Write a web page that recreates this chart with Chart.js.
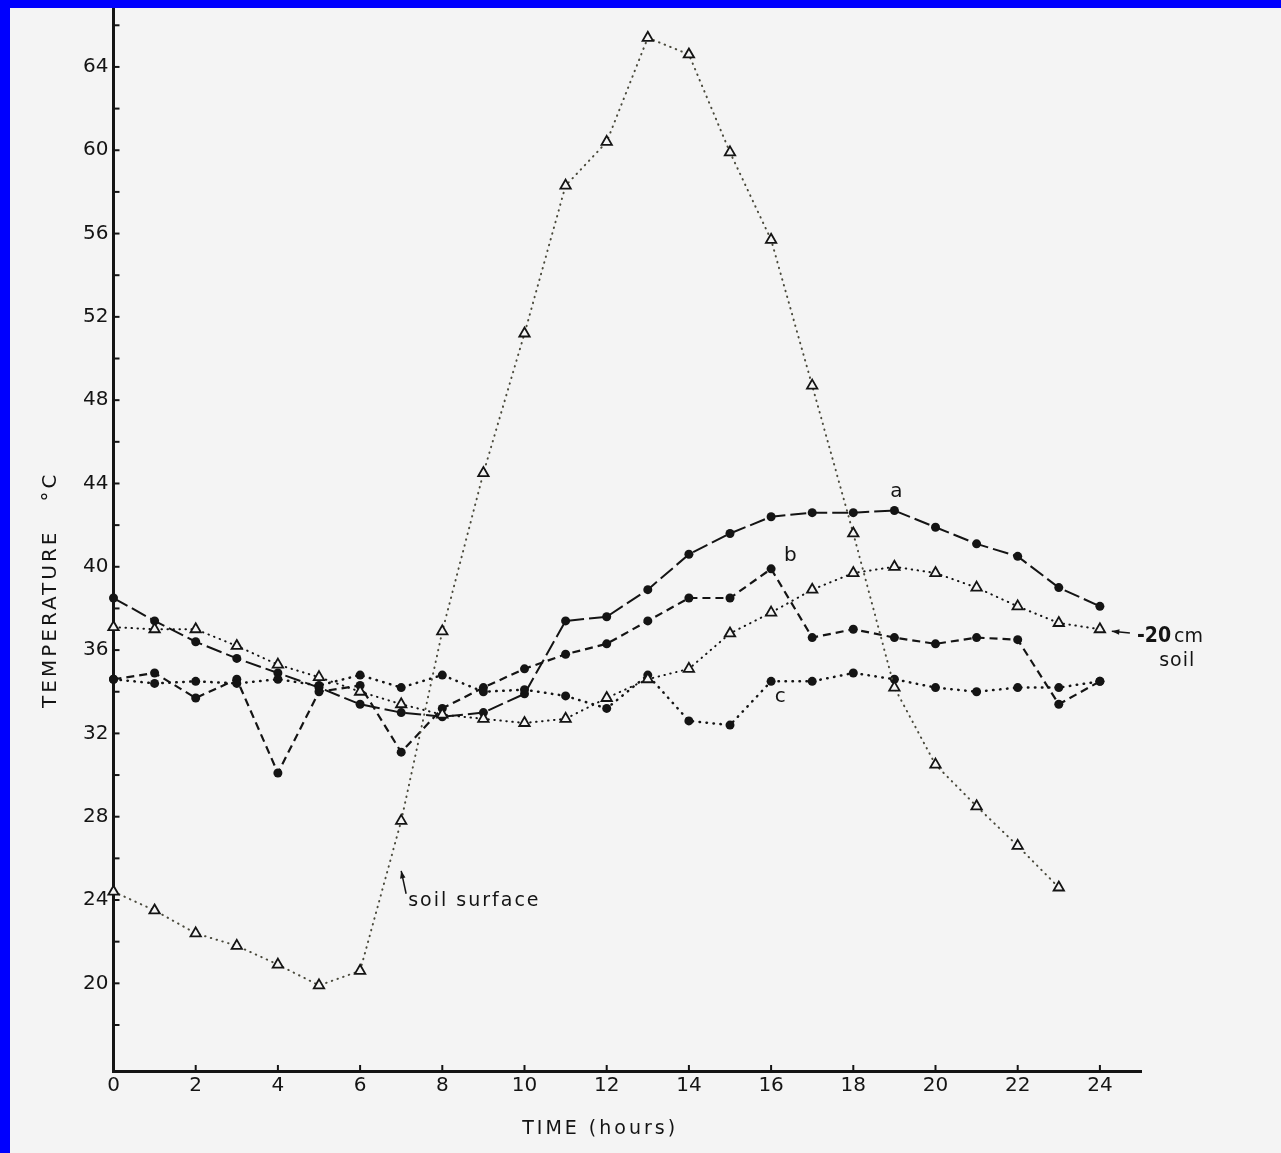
<!DOCTYPE html>
<html>
<head>
<meta charset="utf-8">
<title>Soil temperature over 24 hours</title>
<script src="https://cdn.jsdelivr.net/npm/chart.js@4.4.1/dist/chart.umd.min.js"></script>
<style>
    html, body { margin: 0; padding: 0; background: #0000fe; }
    body { width: 1281px; height: 1153px; position: relative; overflow: hidden; }
    #wrap { position: absolute; left: 10px; top: 8px; width: 1271px; height: 1145px; background: #f4f4f4; }
</style>
</head>
<body>
<div id="wrap"><canvas id="tempChart" width="1271" height="1145"></canvas></div>
<script>
// time of day (hours)
const hours = [0, 1, 2, 3, 4, 5, 6, 7, 8, 9, 10, 11, 12, 13, 14, 15, 16, 17, 18, 19, 20, 21, 22, 23, 24];

// temperatures, deg C
const curveA = [38.5, 37.4, 36.4, 35.6, 34.9, 34.2, 33.4, 33.0, 32.8, 33.0, 33.9, 37.4, 37.6, 38.9, 40.6, 41.6, 42.4, 42.6, 42.6, 42.7, 41.9, 41.1, 40.5, 39.0, 38.1];
const curveB = [34.6, 34.9, 33.7, 34.6, 30.1, 34.0, 34.3, 31.1, 33.2, 34.2, 35.1, 35.8, 36.3, 37.4, 38.5, 38.5, 39.9, 36.6, 37.0, 36.6, 36.3, 36.6, 36.5, 33.4, 34.5];
const curveC = [34.6, 34.4, 34.5, 34.4, 34.6, 34.3, 34.8, 34.2, 34.8, 34.0, 34.1, 33.8, 33.2, 34.8, 32.6, 32.4, 34.5, 34.5, 34.9, 34.6, 34.2, 34.0, 34.2, 34.2, 34.5];
const soil20cm = [37.1, 37.0, 37.0, 36.2, 35.3, 34.7, 34.0, 33.4, 32.9, 32.7, 32.5, 32.7, 33.7, 34.6, 35.1, 36.8, 37.8, 38.9, 39.7, 40.0, 39.7, 39.0, 38.1, 37.3, 37.0];
const soilSurface = [24.4, 23.5, 22.4, 21.8, 20.9, 19.9, 20.6, 27.8, 36.9, 44.5, 51.2, 58.3, 60.4, 65.4, 64.6, 59.9, 55.7, 48.7, 41.6, 34.2, 30.5, 28.5, 26.6, 24.6];

// axes
const xTicks = [0, 2, 4, 6, 8, 10, 12, 14, 16, 18, 20, 22, 24];
const yTicks = [18, 20, 22, 24, 26, 28, 30, 32, 34, 36, 38, 40, 42, 44, 46, 48, 50, 52, 54, 56, 58, 60, 62, 64, 66];
const yLabels = [20, 24, 28, 32, 36, 40, 44, 48, 52, 56, 60, 64];

const ink = '#141414';
const paper = '#f4f4f4';

function points(values) {
    return values.map((v, i) => ({ x: hours[i], y: v }));
}

// text written on the figure, placed in data units
const notes = [
    { text: 'a', x: 19.05, y: 43.6, font: '20px "DejaVu Sans"', align: 'center' },
    { text: 'b', x: 16.47, y: 40.55, font: '20px "DejaVu Sans"', align: 'center' },
    { text: 'c', x: 16.22, y: 33.75, font: '20px "DejaVu Sans"', align: 'center' },
    { text: 'soil', x: 25.88, y: 35.45, font: '19px "DejaVu Sans"', align: 'center', spacing: '1px' },
    { text: 'soil surface', x: 7.17, y: 23.95, font: '19px "DejaVu Sans"', align: 'left', spacing: '2px' }
];

const paperMarks = {
    id: 'paperMarks',
    afterDraw(chart) {
        const { ctx, chartArea, scales: { x, y } } = chart;
        ctx.save();
        ctx.strokeStyle = ink;
        ctx.fillStyle = ink;
        ctx.lineWidth = 2;

        // tick marks point inward
        yTicks.forEach(v => {
            const py = y.getPixelForValue(v);
            ctx.beginPath();
            ctx.moveTo(chartArea.left, py);
            ctx.lineTo(chartArea.left + 6, py);
            ctx.stroke();
        });
        xTicks.forEach(v => {
            const px = x.getPixelForValue(v);
            ctx.beginPath();
            ctx.moveTo(px, chartArea.bottom);
            ctx.lineTo(px, chartArea.bottom - 6);
            ctx.stroke();
        });

        ctx.textBaseline = 'middle';
        notes.forEach(n => {
            ctx.font = n.font;
            ctx.textAlign = n.align;
            ctx.letterSpacing = n.spacing || '0px';
            ctx.fillText(n.text, x.getPixelForValue(n.x), y.getPixelForValue(n.y));
        });

        // "-20 cm" with bold figures
        ctx.letterSpacing = '0px';
        ctx.textAlign = 'left';
        const lx = x.getPixelForValue(24.9);
        const ly = y.getPixelForValue(36.64);
        ctx.font = 'bold 21px "DejaVu Sans Condensed"';
        ctx.fillText('-20', lx, ly);
        const w = ctx.measureText('-20').width;
        ctx.font = '19px "DejaVu Sans"';
        ctx.fillText('cm', lx + w + 3, ly);

        // arrows
        arrow(ctx, x.getPixelForValue(24.73), y.getPixelForValue(36.82), x.getPixelForValue(24.29), y.getPixelForValue(36.9));
        arrow(ctx, x.getPixelForValue(7.12), y.getPixelForValue(24.3), x.getPixelForValue(7.0), y.getPixelForValue(25.4));

        // axis titles
        ctx.font = '20px "DejaVu Sans"';
        ctx.textAlign = 'center';
        ctx.letterSpacing = '3px';
        ctx.save();
        ctx.translate(chartArea.left - 63, y.getPixelForValue(38.9));
        ctx.rotate(-Math.PI / 2);
        ctx.fillText('TEMPERATURE   °C', 0, 0);
        ctx.restore();

        ctx.font = '19px "DejaVu Sans"';
        ctx.letterSpacing = '3px';
        ctx.fillText('TIME (hours)', x.getPixelForValue(11.84), chartArea.bottom + 58);
        ctx.restore();
    }
};

function arrow(ctx, x1, y1, x2, y2) {
    const ang = Math.atan2(y2 - y1, x2 - x1);
    ctx.lineWidth = 1.5;
    ctx.beginPath();
    ctx.moveTo(x1, y1);
    ctx.lineTo(x2, y2);
    ctx.stroke();
    ctx.beginPath();
    ctx.moveTo(x2, y2);
    ctx.lineTo(x2 - 8 * Math.cos(ang - 0.35), y2 - 8 * Math.sin(ang - 0.35));
    ctx.lineTo(x2 - 8 * Math.cos(ang + 0.35), y2 - 8 * Math.sin(ang + 0.35));
    ctx.closePath();
    ctx.fill();
}

function dots(values, style) {
    return Object.assign({
        data: points(values),
        borderColor: ink,
        backgroundColor: ink,
        pointBackgroundColor: ink,
        pointBorderColor: ink,
        pointBorderWidth: 0,
        pointStyle: 'circle',
        pointRadius: 4.5,
        tension: 0,
        clip: false
    }, style);
}

function triangles(values, style) {
    return Object.assign({
        data: points(values),
        borderColor: ink,
        pointBackgroundColor: paper,
        pointBorderColor: ink,
        pointBorderWidth: 1.8,
        pointStyle: 'triangle',
        pointRadius: 6,
        borderWidth: 2,
        borderDash: [0.5, 5.5],
        borderCapStyle: 'round',
        tension: 0,
        clip: false
    }, style);
}

document.addEventListener('DOMContentLoaded', function() {
    new Chart(document.getElementById('tempChart'), {
        type: 'line',
        data: {
            datasets: [
                triangles(soilSurface, { label: 'soil surface', borderColor: '#4a4a3c' }),
                triangles(soil20cm, { label: '-20 cm soil' }),
                dots(curveC, { label: 'c', borderWidth: 2.5, borderDash: [0.5, 6.5], borderCapStyle: 'round' }),
                dots(curveB, { label: 'b', borderWidth: 2.2, borderDash: [8, 5] }),
                dots(curveA, { label: 'a', borderWidth: 2, borderDash: [16, 5] })
            ]
        },
        options: {
            responsive: false,
            animation: false,
            devicePixelRatio: 1,
            layout: { autoPadding: false, padding: { top: 0, right: 140, bottom: 0, left: 0 } },
            plugins: { legend: { display: false }, tooltip: { enabled: false } },
            scales: {
                x: {
                    type: 'linear',
                    min: 0,
                    max: 25,
                    grid: { display: false, drawTicks: false },
                    border: { display: true, color: ink, width: 3 },
                    ticks: { color: ink, font: { family: 'DejaVu Sans', size: 20 }, padding: 3 },
                    afterBuildTicks: scale => { scale.ticks = xTicks.map(v => ({ value: v })); },
                    afterFit: scale => { scale.height = 82; scale.paddingLeft = 0; scale.paddingRight = 0; }
                },
                y: {
                    type: 'linear',
                    min: 15.79,
                    max: 66.83,
                    grid: { display: false, drawTicks: false },
                    border: { display: true, color: ink, width: 3 },
                    ticks: {
                        color: ink,
                        font: { family: 'DejaVu Sans', size: 20 },
                        padding: 5,
                        callback: v => yLabels.includes(v) ? String(v) : ''
                    },
                    afterBuildTicks: scale => { scale.ticks = yTicks.map(v => ({ value: v })); },
                    afterFit: scale => { scale.width = 103.5; scale.paddingTop = 0; scale.paddingBottom = 0; }
                }
            }
        },
        plugins: [paperMarks]
    });
});
</script>
</body>
</html>
